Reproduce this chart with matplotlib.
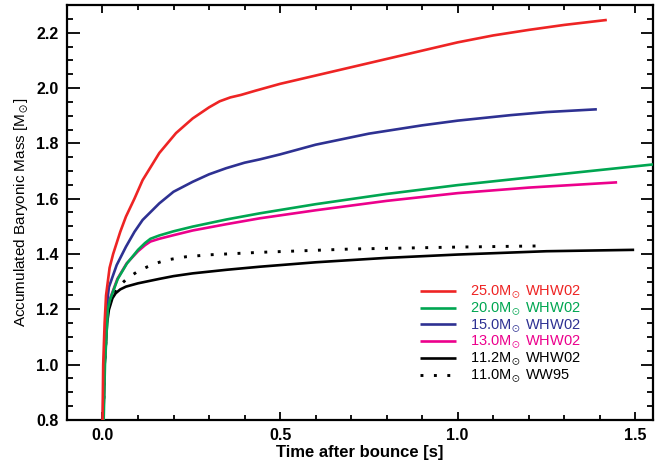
import numpy as np
import matplotlib
matplotlib.use('Agg')
import matplotlib.pyplot as plt
from matplotlib.ticker import MultipleLocator

# accumulated baryonic mass vs time after bounce
t_25 = [0.0, 0.002, 0.006, 0.01, 0.02, 0.03, 0.05, 0.066, 0.09, 0.113, 0.16,
        0.207, 0.254, 0.3, 0.33, 0.36, 0.39, 0.43, 0.5, 0.65, 0.8, 1.0,
        1.1, 1.2, 1.3, 1.42]
m_25 = [0.78, 1.0, 1.15, 1.25, 1.35, 1.40, 1.48, 1.535, 1.60, 1.667, 1.765,
        1.837, 1.89, 1.93, 1.952, 1.966, 1.975, 1.99, 2.015, 2.06, 2.105, 2.165,
        2.19, 2.21, 2.228, 2.246]

t_20 = [0.003, 0.007, 0.015, 0.021, 0.043, 0.069, 0.1, 0.12, 0.135, 0.16, 0.2,
        0.254, 0.35, 0.443, 0.6, 0.8, 1.0, 1.3, 1.56]
m_20 = [0.78, 1.0, 1.2, 1.234, 1.31, 1.366, 1.415, 1.44, 1.455, 1.467, 1.482,
        1.499, 1.525, 1.547, 1.58, 1.617, 1.649, 1.69, 1.725]

t_15 = [0.001, 0.004, 0.011, 0.018, 0.04, 0.066, 0.09, 0.113, 0.16, 0.2, 0.254,
        0.3, 0.348, 0.4, 0.443, 0.5, 0.6, 0.75, 0.9, 1.0, 1.15, 1.25, 1.392]
m_15 = [0.78, 1.0, 1.2, 1.28, 1.36, 1.426, 1.48, 1.523, 1.583, 1.625, 1.661,
        1.688, 1.71, 1.73, 1.742, 1.76, 1.795, 1.835, 1.865, 1.882, 1.902, 1.913, 1.923]

t_13 = [0.002, 0.006, 0.014, 0.02, 0.042, 0.068, 0.1, 0.12, 0.135, 0.16, 0.2,
        0.254, 0.35, 0.443, 0.6, 0.8, 1.0, 1.2, 1.449]
m_13 = [0.78, 1.0, 1.2, 1.234, 1.31, 1.366, 1.41, 1.432, 1.445, 1.455, 1.468,
        1.485, 1.508, 1.529, 1.558, 1.592, 1.62, 1.64, 1.659]

t_112 = [0.002, 0.006, 0.013, 0.018, 0.028, 0.037, 0.05, 0.066, 0.1, 0.16, 0.2,
         0.254, 0.35, 0.443, 0.6, 0.8, 1.0, 1.25, 1.497]
m_112 = [0.78, 1.0, 1.15, 1.198, 1.24, 1.258, 1.272, 1.282, 1.294, 1.31, 1.32,
         1.33, 1.343, 1.354, 1.37, 1.386, 1.398, 1.41, 1.415]

t_110 = [0.002, 0.006, 0.013, 0.02, 0.035, 0.05, 0.07, 0.098, 0.127, 0.15,
         0.179, 0.207, 0.235, 0.3, 0.443, 0.7, 1.0, 1.222]
m_110 = [0.78, 1.0, 1.17, 1.22, 1.26, 1.288, 1.312, 1.336, 1.354, 1.366,
         1.378, 1.384, 1.39, 1.397, 1.406, 1.418, 1.425, 1.429]

series = [
    (t_25, m_25, '#ee2424', '-', r'25.0M$_{\!\odot}$ WHW02'),
    (t_20, m_20, '#00a651', '-', r'20.0M$_{\!\odot}$ WHW02'),
    (t_15, m_15, '#2e3192', '-', r'15.0M$_{\!\odot}$ WHW02'),
    (t_13, m_13, '#ec008c', '-', r'13.0M$_{\!\odot}$ WHW02'),
    (t_112, m_112, '#000000', '-', r'11.2M$_{\!\odot}$ WHW02'),
    (t_110, m_110, '#000000', (0, (1, 3.6)), r'11.0M$_{\!\odot}$ WW95'),
]

plt.rcParams['font.family'] = ['Liberation Sans', 'DejaVu Sans']
plt.rcParams['mathtext.fontset'] = 'custom'
plt.rcParams['mathtext.rm'] = 'Liberation Sans'
plt.rcParams['mathtext.it'] = 'Liberation Sans:italic'
plt.rcParams['mathtext.bf'] = 'Liberation Sans:bold'
plt.rcParams['mathtext.fallback'] = 'stixsans'

fig = plt.figure(figsize=(6.67, 4.68), dpi=100)
ax = fig.add_axes([0.1004, 0.1026, 0.8786, 0.8867])

handles = []
for i, (t, m, c, ls, lab) in enumerate(series):
    lw = 2.1 if isinstance(ls, tuple) else 1.9
    h, = ax.plot(t, m, color=c, linestyle=ls, lw=lw, label=lab,
                 solid_capstyle='butt', dash_capstyle='butt', zorder=10 - i)
    handles.append(h)

ax.set_xlim(-0.1, 1.55)
ax.set_ylim(0.8, 2.3)

ax.xaxis.set_major_locator(MultipleLocator(0.5))
ax.xaxis.set_minor_locator(MultipleLocator(0.1))
ax.yaxis.set_major_locator(MultipleLocator(0.2))
ax.yaxis.set_minor_locator(MultipleLocator(0.05))
ax.tick_params(which='both', direction='in', top=True, right=True, width=1.3)
ax.tick_params(axis='x', which='major', length=6)
ax.tick_params(axis='x', which='minor', length=3.5)
ax.tick_params(axis='y', which='major', length=9)
ax.tick_params(axis='y', which='minor', length=4.5)
ax.tick_params(axis='both', labelsize=11.5, pad=6)
for lbl in ax.get_xticklabels() + ax.get_yticklabels():
    lbl.set_fontweight('bold')
for sp in ax.spines.values():
    sp.set_linewidth(1.6)

ax.set_xlabel('Time after bounce [s]', fontsize=12, fontweight='bold', labelpad=1)
ax.set_ylabel(r'Accumulated Baryonic Mass [M$_{\!\odot}$]', fontsize=11, labelpad=4)

leg = ax.legend(handles=handles, loc='upper left', bbox_to_anchor=(0.58, 0.36),
                frameon=False, fontsize=10.5, handlelength=2.5, handletextpad=0.95,
                labelspacing=-0.04, labelcolor='linecolor')

fig.savefig('out.png', dpi=100)
